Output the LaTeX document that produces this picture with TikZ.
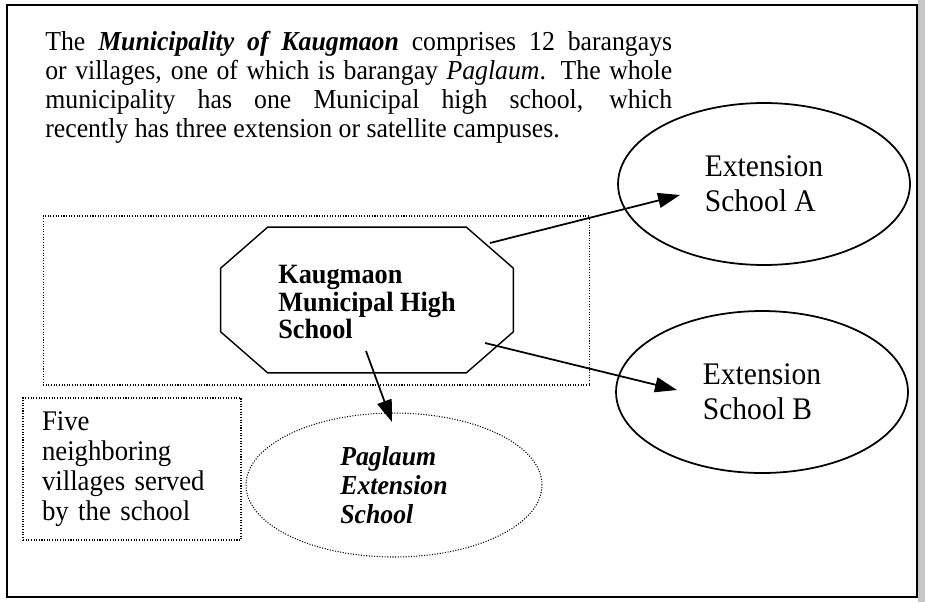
\documentclass[tikz,border=0pt]{standalone}
\usepackage{fontspec}
\setmainfont{Liberation Serif}[FakeStretch=0.94]
\usetikzlibrary{shapes.geometric,arrows.meta,positioning,calc}
\lineskiplimit=-20pt

\begin{document}
\begin{tikzpicture}[x=0.02cm,y=-0.02cm,
  every node/.style={inner sep=0pt, align=left},
  dotline/.style={draw,line width=0.6pt,dash pattern=on 0.6pt off 0.9pt},
  extschool/.style={draw,ellipse,line width=1pt,minimum width=5.84cm,
    minimum height=3.24cm,font=\fontsize{17.9}{19.8}\selectfont},
  mainschool/.style={minimum width=5.84cm,minimum height=2.9cm,
    font=\fontsize{15.9}{15.9}\selectfont\bfseries},
  octline/.style={draw,line width=0.8pt,line join=miter},
  link/.style={-{Triangle[length=0.44cm,width=0.3cm]},line width=1pt}]
\useasboundingbox (0,0) rectangle (925,602);
\draw[line width=1pt] (7,5) rectangle (917,597);
\fill[gray!45] (918,0) rectangle (925,602);
\node[anchor=north west,text width=12.54cm,align=justify,
  font=\fontsize{15.6}{16.4}\selectfont] (intro) at (45,31)
  {The \textbf{\textit{Municipality of Kaugmaon}} comprises 12 barangays\linebreak
   or villages, one of which is barangay \textit{Paglaum}. The whole\linebreak
   municipality has one Municipal high school, which\linebreak
   recently has three extension or satellite campuses.};
\node[dotline,minimum width=10.94cm,minimum height=3.38cm] (zone) at (316.5,300.5) {};
\node[mainschool] (kmhs) at (367,302) {Kaugmaon\\Municipal High\\School};
\draw[octline] ($(kmhs.north west)+(47,-2)$) -- ($(kmhs.north east)+(-47,-2)$)
  -- ($(kmhs.north east)+(0,39)$) -- ($(kmhs.south east)+(0,-43)$)
  -- ($(kmhs.south east)+(-47,-2)$) -- ($(kmhs.south west)+(47,-2)$)
  -- ($(kmhs.south west)+(0,-43)$) -- ($(kmhs.north west)+(0,39)$) -- cycle;
\node[extschool] (extA) at (764,184) {Extension\\School A};
\node[extschool] (extB) at (762,392) {Extension\\School B};
\node[dotline,ellipse,minimum width=5.92cm,minimum height=2.88cm,
  font=\fontsize{15.6}{16.6}\selectfont\bfseries\itshape] (paglaum) at (394,485)
  {Paglaum\\Extension\\School};
\node[dotline,minimum width=4.36cm,minimum height=2.84cm,text width=3.6cm,
  font=\fontsize{16.2}{17}\selectfont] (villages) at (132,469)
  {Five\\neighboring\\villages served\\by the school};
% arrows from the main school
\draw[link] ([shift={(123,-59)}]kmhs.center) -- ([shift={(-84,11)}]extA.center);
\draw[link] ([shift={(118,41)}]kmhs.center) -- ([shift={(-85,-2)}]extB.center);
\draw[link] ([shift={(-1,49)}]kmhs.center) -- ([shift={(-2,-63)}]paglaum.center);
\end{tikzpicture}
\end{document}
